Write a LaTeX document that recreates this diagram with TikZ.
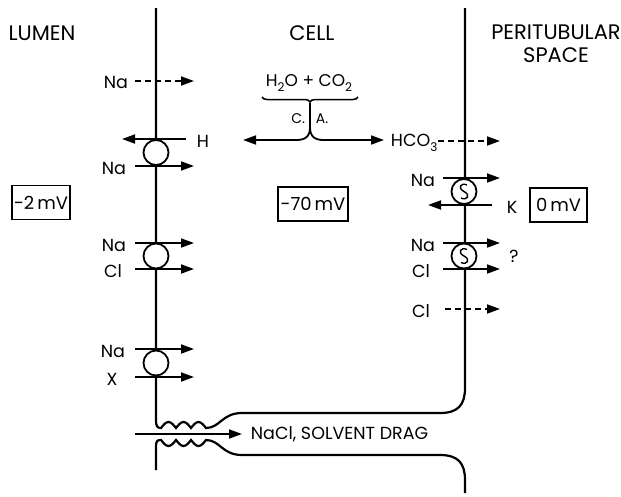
\documentclass[tikz,border=0pt]{standalone}
\usepackage{fontspec}
\setmainfont{Poppins}
\usetikzlibrary{arrows.meta,decorations.pathreplacing}
\newcommand{\lowsub}[1]{\raisebox{-0.45ex}{\fontsize{12}{12}\selectfont #1}}
\begin{document}
\begin{tikzpicture}[x=1pt,y=-1pt, line width=1.8pt,
 lbl/.style={font=\fontsize{17.5}{17.5}\selectfont, inner sep=0},
 title/.style={font=\fontsize{21}{23}\selectfont, inner sep=0, align=center},
 mvbox/.style={draw, line width=1.6pt, font=\fontsize{18}{18}\selectfont, inner sep=0, minimum height=34pt},
 flux/.style={-{Triangle[length=13pt,width=9pt]}},
 dflux/.style={flux, dash pattern=on 6pt off 4pt},
 carrier/.style={circle, draw, fill=white, minimum size=25pt, inner sep=0, line width=1.8pt},
 memb/.style={line width=2.2pt}
]
\useasboundingbox (0,0) rectangle (621,496);

% titles
\node[title] (lumen) at (42,33) {LUMEN};
\node[title] (cell) at (312,33) {CELL};
\node[title] (peri) at (556,44) {PERITUBULAR\\SPACE};

% apical membrane with junction
\draw[memb] (156,8) -- (156,420)
  .. controls (156,426) and (157,428) .. (161,428)
  sin (168.5,422) cos (176,428) sin (183.5,422) cos (191,428) sin (198.5,422) cos (206,428)
  .. controls (220,428) and (222,413) .. (242,413)
  -- (440,413) .. controls (458,413) and (465,405) .. (465,388) -- (465,8);
\draw[memb] (156,470) -- (156,447)
  .. controls (156,441) and (157,440) .. (161,440)
  sin (168.5,446) cos (176,440) sin (183.5,446) cos (191,440) sin (198.5,446) cos (206,440)
  .. controls (220,440) and (222,455) .. (242,455)
  -- (440,455) .. controls (458,455) and (465,463) .. (465,480) -- (465,493);

% paracellular
\coordinate (ps) at (135,434);
\node[lbl, anchor=west] (nacl) at (250,434) {NaCl, SOLVENT DRAG};
\draw[flux, shorten >=8pt] (ps) -- (nacl.west);

% luminal membrane
\node[lbl] (na0) at (116,82) {Na};
\draw[dflux] (135,81) -- (194,81);

\draw[flux] (186,139) -- (122,139);
\node[lbl, anchor=west] (h) at (196,141) {H};
\node[lbl] (na1) at (114,168) {Na};
\draw[flux] (135,166) -- (194,166);
\node[carrier] (c1) at (156,152.5) {};

\node[lbl] (na2) at (114,245) {Na};
\node[lbl] (cl2) at (113,271) {Cl};
\draw[flux] (135,243) -- (194,243);
\draw[flux] (135,269) -- (194,269);
\node[carrier] (c2) at (156,256) {};

\node[lbl] (na3) at (113,351) {Na};
\node[lbl] (x3) at (112,379) {X};
\draw[flux] (135,349) -- (194,349);
\draw[flux] (135,377) -- (194,377);
\node[carrier] (c3) at (156,363) {};

% carbonic anhydrase
\node[lbl, font=\fontsize{17}{17}\selectfont] (h2o) at (309,83) {H\lowsub{2}O + CO\lowsub{2}};
\draw[line width=1.5pt, decoration={brace, mirror, amplitude=5pt}, decorate] (262,97) -- (358,97);
\node[lbl, font=\fontsize{14}{14}\selectfont, anchor=east] (ca1) at (306,119) {C.};
\node[lbl, font=\fontsize{14}{14}\selectfont, anchor=west] (ca2) at (315,119) {A.};
\coordinate (stem) at (310,103);
\draw[flux] (stem) -- (310,127) .. controls (310,137) and (305,140) .. (296,140) -- (243,140);
\draw[flux] (stem) -- (310,127) .. controls (310,137) and (315,140) .. (324,140) -- (384,140);
\node[lbl, anchor=west] (hco3) at (390,143) {HCO\lowsub{3}};
\draw[dflux] (438,141) -- (500,141);

% basolateral membrane
\node[lbl] (na4) at (423,180) {Na};
\draw[flux] (443,178) -- (500,178);
\draw[flux] (492,205) -- (428,205);
\node[lbl] (k) at (512,207) {K};
\node[carrier] (s1) at (464,191.5) {};
\draw[line width=1.4pt] (467,185) .. controls (461,182) and (457,188) .. (464,191.5) .. controls (471,195) and (467,201) .. (461,198);

\node[lbl] (na5) at (423,245) {Na};
\node[lbl] (cl5) at (421,271) {Cl};
\draw[flux] (443,243) -- (500,243);
\draw[flux] (443,269) -- (500,269);
\node[carrier] (s2) at (464,256) {};
\draw[line width=1.4pt] (467,249.5) .. controls (461,246.5) and (457,252.5) .. (464,256) .. controls (471,259.5) and (467,265.5) .. (461,262.5);
\node[lbl] (q) at (514,256) {?};

\node[lbl] (cl6) at (421,311) {Cl};
\draw[dflux] (445,309) -- (500,309);

% potentials
\node[mvbox, minimum width=58pt] (m1) at (41,202.5) {-2\,mV};
\node[mvbox, minimum width=70pt] (m2) at (313,204) {-70\,mV};
\node[mvbox, minimum width=57pt] (m3) at (558.5,205) {0\,mV};
\end{tikzpicture}
\end{document}
